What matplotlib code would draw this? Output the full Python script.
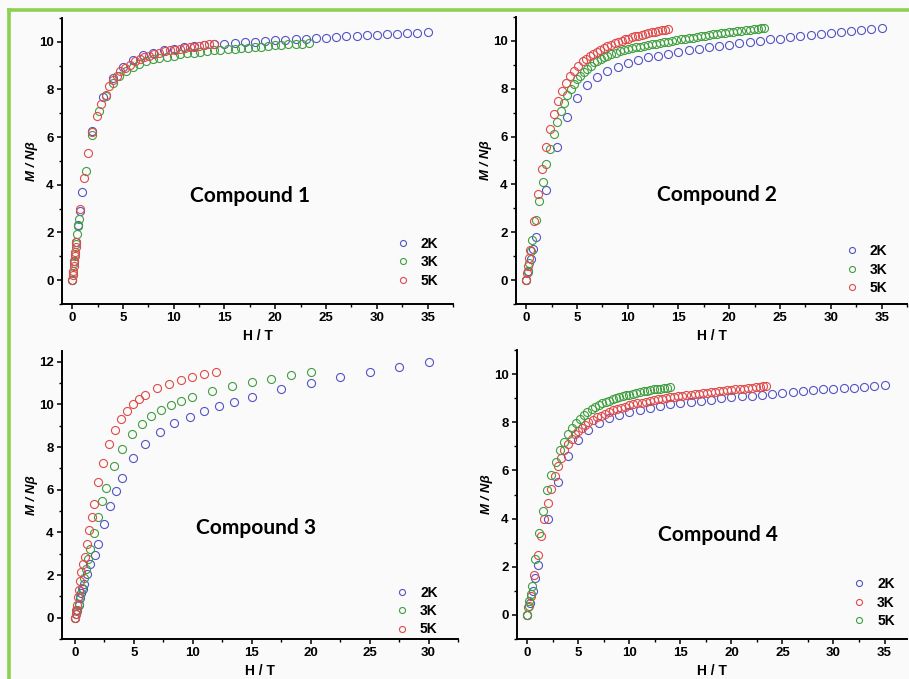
import matplotlib
matplotlib.use("Agg")
import matplotlib.pyplot as plt
from matplotlib.lines import Line2D
from matplotlib.ticker import MultipleLocator

# ---- data (H in T, M in N beta) ----
# Compound 1
c1_h_2k = [0, 0.2, 0.4, 0.6, 0.8, 1, 2, 3, 4, 5, 6, 7, 8, 9, 10, 11, 12, 13, 14, 15, 16, 17, 18,
           19, 20, 21, 22, 23, 24, 25, 26, 27, 28, 29, 30, 31, 32, 33, 34, 35]
c1_m_2k = [0, 0.8, 1.6, 2.3, 2.9, 3.7, 6.25, 7.7, 8.5, 8.95, 9.25, 9.45, 9.55, 9.65, 9.72, 9.78,
           9.83, 9.87, 9.9, 9.93, 9.96, 9.99, 10.01, 10.04, 10.06, 10.09, 10.11, 10.13, 10.16,
           10.18, 10.2, 10.23, 10.25, 10.27, 10.3, 10.32, 10.34, 10.36, 10.38, 10.4]
c1_h_3k = [0, 0.1, 0.2, 0.3, 0.4, 0.5, 0.6, 0.7, 1.35, 2.0, 2.65, 3.3, 4.0, 4.6, 5.3, 6.0, 6.6,
           7.3, 8.0, 8.6, 9.3, 10.0, 10.6, 11.3, 12.0, 12.6, 13.3, 14.0, 14.6, 15.3, 16.0, 16.6,
           17.3, 18.0, 18.6, 19.3, 20.0, 20.6, 21.3, 22.0, 22.6, 23.3]
c1_m_3k = [0, 0.3, 0.7, 1.1, 1.5, 1.92, 2.27, 2.55, 4.56, 6.07, 7.1, 7.74, 8.27, 8.55, 8.76, 8.95,
           9.08, 9.2, 9.27, 9.33, 9.38, 9.42, 9.47, 9.52, 9.55, 9.58, 9.61, 9.64, 9.66, 9.69, 9.71,
           9.73, 9.76, 9.78, 9.8, 9.83, 9.85, 9.87, 9.89, 9.91, 9.93, 9.95]
c1_h_5k = [0, 0.05, 0.1, 0.15, 0.2, 0.25, 0.3, 0.35, 0.4, 0.8, 1.2, 1.57, 2.0, 2.4, 2.8, 3.3, 3.6,
           4.0, 4.4, 4.75, 5.2, 5.7, 6.2, 6.65, 7.1, 7.6, 8.1, 8.6, 9.1, 9.6, 10.1, 10.6, 11.1,
           11.6, 12.0, 12.5, 13.0, 13.5, 14.0]
c1_m_5k = [0, 0.2, 0.4, 0.6, 0.8, 1.0, 1.2, 1.4, 1.6, 3.0, 4.3, 5.35, 6.2, 6.88, 7.4, 7.78, 8.13,
           8.38, 8.58, 8.76, 8.9, 9.04, 9.18, 9.27, 9.36, 9.41, 9.48, 9.55, 9.6, 9.64, 9.67, 9.7,
           9.73, 9.77, 9.8, 9.83, 9.86, 9.89, 9.9]

# Compound 2
c2_h_2k = [0, 0.2, 0.46, 0.72, 0.98, 2, 3, 4, 5, 6, 7, 8, 9, 10, 11, 12, 13, 14, 15, 16, 17, 18,
           19, 20, 21, 22, 23, 24, 25, 26, 27, 28, 29, 30, 31, 32, 33, 34, 35]
c2_m_2k = [0, 0.4, 0.9, 1.32, 1.81, 3.78, 5.56, 6.82, 7.63, 8.15, 8.5, 8.76, 8.93, 9.09, 9.2, 9.32,
           9.39, 9.46, 9.53, 9.6, 9.67, 9.73, 9.79, 9.85, 9.9, 9.96, 10.0, 10.06, 10.1, 10.15,
           10.2, 10.24, 10.28, 10.32, 10.36, 10.4, 10.46, 10.5, 10.54]
c2_h_3k = [0, 0.15, 0.3, 0.45, 0.6, 1.0, 1.3, 1.67, 2.0, 2.35, 2.7, 3.0, 3.4, 3.7, 4.05, 4.4, 4.7,
           5.0, 5.35, 5.7, 6.0, 6.35, 6.7, 7.0, 7.35, 7.7, 8.0, 8.4, 8.8, 9.2, 9.6, 10.0, 10.4,
           10.8, 11.2, 11.6, 12.0, 12.4, 12.8, 13.2, 13.6, 14.0, 14.4, 14.8, 15.2, 15.6, 16.0,
           16.4, 16.8, 17.2, 17.6, 18.0, 18.4, 18.8, 19.2, 19.6, 20.0, 20.4, 20.8, 21.2, 21.6,
           22.0, 22.4, 22.8, 23.1, 23.4]
c2_m_3k = [0, 0.35, 0.7, 1.2, 1.67, 2.5, 3.3, 4.1, 4.85, 5.5, 6.1, 6.6, 7.08, 7.42, 7.74, 7.98, 8.2,
           8.4, 8.55, 8.69, 8.81, 8.95, 9.1, 9.18, 9.26, 9.33, 9.38, 9.44, 9.5, 9.56, 9.61, 9.65,
           9.69, 9.73, 9.76, 9.8, 9.83, 9.86, 9.89, 9.92, 9.95, 9.97, 10.0, 10.03, 10.06, 10.08,
           10.11, 10.14, 10.16, 10.19, 10.22, 10.25, 10.27, 10.29, 10.32, 10.34, 10.37, 10.39,
           10.41, 10.43, 10.45, 10.47, 10.49, 10.51, 10.52, 10.54]
c2_h_5k = [0, 0.13, 0.2, 0.3, 0.4, 0.8, 1.2, 1.57, 1.96, 2.35, 2.75, 3.14, 3.57, 3.96, 4.35, 4.74,
           5.1, 5.56, 5.9, 6.3, 6.6, 7.0, 7.3, 7.7, 8.0, 8.4, 8.7, 9.0, 9.4, 9.7, 10.0, 10.4, 10.7,
           11.0, 11.4, 11.7, 12.0, 12.4, 12.7, 13.0, 13.4, 13.7, 14.0]
c2_m_5k = [0, 0.3, 0.6, 0.93, 1.25, 2.45, 3.58, 4.63, 5.55, 6.3, 6.95, 7.48, 7.9, 8.26, 8.54, 8.76,
           8.95, 9.14, 9.26, 9.37, 9.46, 9.55, 9.62, 9.71, 9.78, 9.85, 9.9, 9.95, 10.01, 10.06,
           10.1, 10.15, 10.19, 10.22, 10.26, 10.3, 10.33, 10.36, 10.39, 10.41, 10.44, 10.47, 10.49]

# Compound 3
c3_h_2k = [0, 0.1, 0.2, 0.3, 0.4, 0.55, 0.7, 0.8, 1.0, 1.25, 1.7, 1.95, 2.46, 2.97, 3.45, 3.96,
           4.95, 5.94, 7.2, 8.43, 9.74, 10.98, 12.2, 13.5, 15.0, 17.5, 20.0, 22.5, 25.0, 27.5, 30.0]
c3_m_2k = [0, 0.15, 0.35, 0.6, 0.93, 1.15, 1.35, 1.6, 2.03, 2.5, 2.96, 3.43, 4.4, 5.22, 5.95, 6.55,
           7.48, 8.13, 8.7, 9.12, 9.41, 9.69, 9.93, 10.13, 10.36, 10.7, 11.0, 11.27, 11.5, 11.73,
           12.0]
c3_h_3k = [0, 0.15, 0.3, 0.45, 0.6, 0.75, 0.95, 1.1, 1.25, 1.64, 1.95, 2.26, 2.66, 3.28, 3.96,
           4.81, 5.66, 6.48, 7.33, 8.18, 9.03, 9.96, 11.64, 13.3, 15.0, 16.67, 18.34, 20.0]
c3_m_3k = [0, 0.3, 0.65, 1.0, 1.4, 1.85, 2.3, 2.75, 3.2, 3.96, 4.72, 5.45, 6.06, 7.12, 7.89, 8.6,
           9.1, 9.46, 9.72, 9.97, 10.15, 10.35, 10.61, 10.85, 11.03, 11.2, 11.38, 11.53]
c3_h_5k = [0, 0.05, 0.1, 0.17, 0.25, 0.32, 0.4, 0.54, 0.68, 0.82, 1.02, 1.19, 1.42, 1.61, 1.92,
           2.38, 2.86, 3.37, 3.88, 4.39, 4.9, 5.41, 5.94, 7.0, 7.98, 8.97, 9.96, 10.98, 12.0]
c3_m_5k = [0, 0.15, 0.35, 0.6, 0.95, 1.3, 1.71, 2.15, 2.52, 2.84, 3.46, 4.11, 4.74, 5.31, 6.37,
           7.25, 8.13, 8.8, 9.32, 9.69, 10.0, 10.24, 10.44, 10.75, 10.96, 11.13, 11.28, 11.41,
           11.53]

# Compound 4
c4_h_2k = [0, 0.3, 0.55, 0.75, 1.04, 2.0, 3.03, 4.0, 5, 6, 7, 8, 9, 10, 11, 12, 13, 14, 15, 16,
           17, 18, 19, 20, 21, 22, 23, 24, 25, 26, 27, 28, 29, 30, 31, 32, 33, 34, 35]
c4_m_2k = [0, 0.5, 1.01, 1.53, 2.06, 3.99, 5.53, 6.58, 7.26, 7.69, 7.96, 8.19, 8.3, 8.42, 8.51,
           8.6, 8.68, 8.74, 8.79, 8.85, 8.89, 8.94, 8.99, 9.04, 9.08, 9.11, 9.14, 9.17, 9.21, 9.24,
           9.28, 9.32, 9.36, 9.39, 9.42, 9.44, 9.47, 9.5, 9.53]
c4_h_3k = [0, 0.15, 0.35, 0.65, 1.04, 1.33, 1.69, 2.0, 2.35, 2.7, 3.0, 3.32, 3.65, 4.0, 4.35, 4.7,
           5.0, 5.35, 5.7, 6.0, 6.4, 6.8, 7.2, 7.6, 8.0, 8.4, 8.8, 9.2, 9.6, 10.0, 10.4, 10.8,
           11.2, 11.6, 12.0, 12.4, 12.8, 13.2, 13.6, 14.0, 14.4, 14.8, 15.2, 15.6, 16.0, 16.4,
           16.8, 17.2, 17.6, 18.0, 18.4, 18.8, 19.2, 19.6, 20.0, 20.4, 20.8, 21.2, 21.6, 22.0,
           22.4, 22.8, 23.1, 23.4]
c4_m_3k = [0, 0.35, 0.8, 1.67, 2.5, 3.26, 3.99, 4.63, 5.22, 5.75, 6.18, 6.53, 6.85, 7.1, 7.32, 7.5,
           7.65, 7.78, 7.9, 8.0, 8.1, 8.2, 8.28, 8.36, 8.43, 8.49, 8.55, 8.6, 8.65, 8.7, 8.74, 8.78,
           8.82, 8.86, 8.89, 8.92, 8.95, 8.98, 9.01, 9.03, 9.06, 9.08, 9.1, 9.13, 9.15, 9.17, 9.19,
           9.21, 9.23, 9.25, 9.27, 9.29, 9.31, 9.33, 9.35, 9.37, 9.39, 9.4, 9.42, 9.44, 9.46, 9.48,
           9.49, 9.5]
c4_h_5k = [0, 0.1, 0.2, 0.33, 0.46, 0.81, 1.17, 1.56, 1.95, 2.34, 2.8, 3.19, 3.58, 3.97, 4.36,
           4.75, 5.14, 5.54, 5.9, 6.3, 6.6, 7.0, 7.3, 7.7, 8.0, 8.4, 8.7, 9.0, 9.4, 9.7, 10.0, 10.4,
           10.7, 11.0, 11.4, 11.7, 12.0, 12.4, 12.7, 13.0, 13.4, 13.7, 14.0]
c4_m_5k = [0, 0.32, 0.57, 0.88, 1.19, 2.33, 3.39, 4.33, 5.17, 5.8, 6.36, 6.83, 7.19, 7.5, 7.75,
           7.96, 8.14, 8.31, 8.43, 8.55, 8.64, 8.72, 8.78, 8.85, 8.9, 8.96, 9.0, 9.04, 9.08, 9.12,
           9.15, 9.19, 9.22, 9.25, 9.28, 9.31, 9.33, 9.36, 9.38, 9.4, 9.42, 9.44, 9.46]

labels = ["2K", "3K", "5K"]
titles = ["Compound 1", "Compound 2", "Compound 3", "Compound 4"]

BLUE = "#5353c6"
GREEN = "#3f9e3f"
RED = "#e04a4a"

W, H = 909, 679
fig = plt.figure(figsize=(W / 100, H / 100), dpi=100, facecolor="#fafafa")


def px_rect(left, top, right, bottom):
    return [left / W, 1 - bottom / H, (right - left) / W, (bottom - top) / H]


def draw_panel(rect, series, colors, xlim, ylim, title, title_xy, leg_anchor):
    ax = fig.add_axes(rect)
    ax.set_facecolor("none")
    for (hh, mm), c, lab in zip(series, colors, labels):
        ax.plot(hh, mm, "o", ms=5.8, mfc="none", mec=c, mew=0.8, label=lab)
    ax.set_xlim(*xlim)
    ax.set_ylim(*ylim)
    for s in ["top", "right"]:
        ax.spines[s].set_visible(False)
    for s in ["left", "bottom"]:
        ax.spines[s].set_linewidth(1.4)
    ax.xaxis.set_major_locator(MultipleLocator(5))
    ax.xaxis.set_minor_locator(MultipleLocator(2.5))
    ax.yaxis.set_major_locator(MultipleLocator(2))
    ax.yaxis.set_minor_locator(MultipleLocator(1))
    ax.tick_params(which="major", direction="out", length=3.5, width=1.1, labelsize=9.5, pad=2.5)
    ax.tick_params(which="minor", direction="out", length=2, width=1.0)
    for lbl in ax.get_xticklabels() + ax.get_yticklabels():
        lbl.set_fontfamily("Liberation Sans")
        lbl.set_fontweight("bold")
    ax.set_xlabel("H / T", fontfamily="Liberation Sans", fontweight="bold", fontsize=10,
                  labelpad=3.5)
    ax.set_ylabel("M / Nβ", fontfamily="Liberation Sans", fontweight="bold", style="italic",
                  fontsize=9.5, labelpad=0.5)
    ax.text(title_xy[0], title_xy[1], title, ha="center", va="center", fontfamily="Lato",
            fontweight="bold", fontsize=15)
    ax.legend(loc="upper left", bbox_to_anchor=leg_anchor, frameon=False, handlelength=1.0,
              handletextpad=0.8, labelspacing=0.32, borderaxespad=0, markerscale=0.75,
              prop={"family": "Liberation Sans", "weight": "bold", "size": 10})
    return ax


draw_panel(px_rect(62, 18, 453, 304),
           [(c1_h_2k, c1_m_2k), (c1_h_3k, c1_m_3k), (c1_h_5k, c1_m_5k)],
           [BLUE, GREEN, RED], (-1, 37.5), (-1, 11), titles[0], (17.5, 3.55), (0.84, 0.255))
draw_panel(px_rect(516, 17, 907, 304),
           [(c2_h_2k, c2_m_2k), (c2_h_3k, c2_m_3k), (c2_h_5k, c2_m_5k)],
           [BLUE, GREEN, RED], (-1, 37.5), (-1, 11), titles[1], (18.8, 3.55), (0.827, 0.228))
draw_panel(px_rect(62, 351, 458, 639),
           [(c3_h_2k, c3_m_2k), (c3_h_3k, c3_m_3k), (c3_h_5k, c3_m_5k)],
           [BLUE, GREEN, RED], (-1.1, 32.5), (-1, 12.5), titles[2], (15.4, 4.2), (0.827, 0.205))
draw_panel(px_rect(517, 350, 907, 639),
           [(c4_h_2k, c4_m_2k), (c4_h_3k, c4_m_3k), (c4_h_5k, c4_m_5k)],
           [BLUE, RED, GREEN], (-1, 37.2), (-1, 11), titles[3], (18.7, 3.33), (0.845, 0.233))

# green frame, only top and left edges are in the picture
fig.add_artist(Line2D([9 / W, 1], [1 - 10 / H, 1 - 10 / H], color="#8dd152", lw=2.6,
                      transform=fig.transFigure))
fig.add_artist(Line2D([9 / W, 9 / W], [0, 1 - 10 / H], color="#8dd152", lw=2.6,
                      transform=fig.transFigure))

fig.savefig("out.png", dpi=100, facecolor=fig.get_facecolor())
